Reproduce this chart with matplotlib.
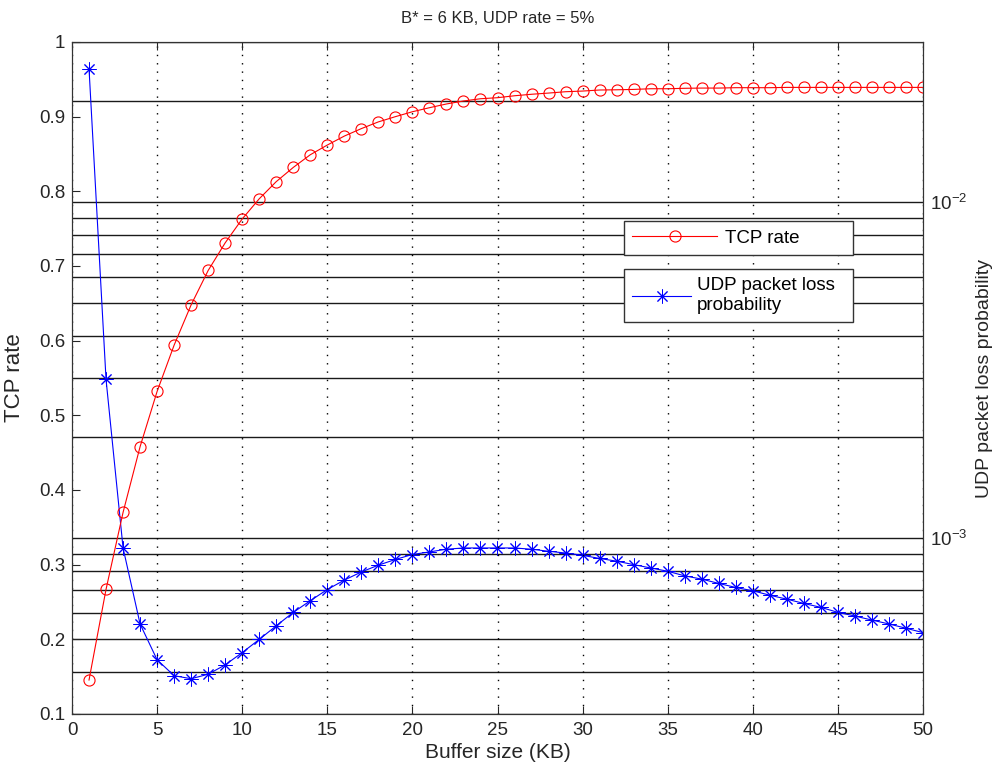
import numpy as np
import matplotlib
matplotlib.use('Agg')
import matplotlib.pyplot as plt
from matplotlib.ticker import LogLocator, LogFormatterMathtext, NullFormatter, MultipleLocator, FuncFormatter

plt.rcParams['font.family'] = ['Liberation Sans', 'DejaVu Sans']
plt.rcParams['mathtext.fontset'] = 'custom'
plt.rcParams['mathtext.rm'] = 'Liberation Sans'

# Buffer size (KB)
buffer_kb = list(range(1, 51))

# TCP rate (left axis)
tcp_rate = [0.1455, 0.267, 0.370, 0.458, 0.532, 0.594, 0.648, 0.694, 0.731, 0.763,
            0.790, 0.813, 0.832, 0.849, 0.862, 0.874, 0.884, 0.893, 0.900, 0.9066,
            0.912, 0.917, 0.921, 0.924, 0.9254, 0.928, 0.930, 0.9316, 0.9334, 0.9343,
            0.9357, 0.936, 0.9365, 0.9374, 0.9374, 0.938, 0.9383, 0.9383, 0.9388, 0.9388,
            0.9388, 0.9392, 0.9392, 0.9392, 0.9392, 0.9392, 0.9392, 0.9392, 0.9392, 0.9392]

# UDP packet loss probability (right axis, log)
udp_loss = [2.50e-2, 2.97e-3, 9.36e-4, 5.56e-4, 4.35e-4, 3.90e-4, 3.82e-4, 3.94e-4, 4.20e-4, 4.57e-4,
            5.00e-4, 5.49e-4, 6.02e-4, 6.52e-4, 7.04e-4, 7.51e-4, 7.94e-4, 8.32e-4, 8.65e-4, 8.95e-4,
            9.11e-4, 9.28e-4, 9.36e-4, 9.36e-4, 9.36e-4, 9.36e-4, 9.28e-4, 9.15e-4, 9.04e-4, 8.90e-4,
            8.71e-4, 8.55e-4, 8.35e-4, 8.16e-4, 7.98e-4, 7.73e-4, 7.56e-4, 7.34e-4, 7.14e-4, 6.98e-4,
            6.77e-4, 6.59e-4, 6.40e-4, 6.23e-4, 6.02e-4, 5.87e-4, 5.71e-4, 5.56e-4, 5.40e-4, 5.24e-4]

txt = '#262626'
tick_fs = 13.5
leg_fs = 13.5

fig = plt.figure(figsize=(9.92, 7.66), dpi=100)
ax = fig.add_axes([72/992, 1-714/766, 851/992, 672/766])
ax2 = ax.twinx()

# right axis first so its grid sits under the TCP curve
ax2.set_yscale('log')
ax2.set_ylim(3e-4, 3e-2)
ax2.yaxis.set_major_locator(LogLocator(base=10))
ax2.yaxis.set_minor_locator(LogLocator(base=10, subs=np.arange(2, 10)))
ax2.yaxis.set_major_formatter(LogFormatterMathtext())
ax2.yaxis.set_minor_formatter(NullFormatter())
ax2.grid(True, which='both', axis='y', color='#1a1a1a', linestyle='-', linewidth=1.0)
ax2.tick_params(axis='y', which='both', direction='in', labelsize=tick_fs, colors=txt, length=0, pad=5)
l2, = ax2.plot(buffer_kb, udp_loss, color='blue', linewidth=0.8,
               marker=(8, 2, 0), markersize=10, markeredgewidth=0.7,
               label='UDP packet loss\nprobability')
ax2.set_ylabel('UDP packet loss probability', fontsize=14, color=txt, labelpad=6)

ax.set_zorder(ax2.get_zorder() + 1)
ax.patch.set_visible(False)
l1, = ax.plot(buffer_kb, tcp_rate, color='red', linewidth=0.8,
              marker='o', markersize=8, markerfacecolor='none', markeredgewidth=0.8,
              label='TCP rate')
ax.set_xlim(0, 50)
ax.set_ylim(0.1, 1)
ax.xaxis.set_major_locator(MultipleLocator(5))
ax.yaxis.set_major_locator(MultipleLocator(0.1))
ax.yaxis.set_major_formatter(FuncFormatter(lambda v, p: f'{v:g}'))
ax.grid(True, axis='x', color='black', linestyle=(0, (1, 5)), linewidth=1.0)
ax.tick_params(direction='in', labelsize=tick_fs, colors=txt, top=True, length=6)
ax.tick_params(axis='x', pad=6)
ax.tick_params(axis='y', pad=5)
ax.set_xlabel('Buffer size (KB)', fontsize=15, color=txt, labelpad=3)
ax.set_ylabel('TCP rate', fontsize=16, color=txt, labelpad=10)
ax.set_title('B* = 6 KB, UDP rate = 5%', fontsize=12, color=txt, pad=14)

for a in (ax, ax2):
    for s in a.spines.values():
        s.set_color('#333333')

# two separate legend boxes, as in the original
x0, w = 0.6487, 0.269
top1, top2 = 0.7336, 0.6622
leg1 = ax.legend(handles=[l1], loc='upper left', bbox_to_anchor=(x0, top1 - 0.05, w, 0.05),
                 mode='expand', fontsize=leg_fs, fancybox=False, edgecolor='#333333',
                 framealpha=1, handlelength=4.5, borderpad=0.45, handletextpad=0.45,
                 borderaxespad=0)
leg1.get_frame().set_linewidth(1.0)
ax.add_artist(leg1)
leg2 = ax.legend(handles=[l2], loc='upper left', bbox_to_anchor=(x0, top2 - 0.08, w, 0.08),
                 mode='expand', fontsize=leg_fs, fancybox=False, edgecolor='#333333',
                 framealpha=1, handlelength=3.1, borderpad=0.45, handletextpad=0.35,
                 borderaxespad=0, labelspacing=0.2)
leg2.get_frame().set_linewidth(1.0)

fig.savefig('out.png', dpi=100)
